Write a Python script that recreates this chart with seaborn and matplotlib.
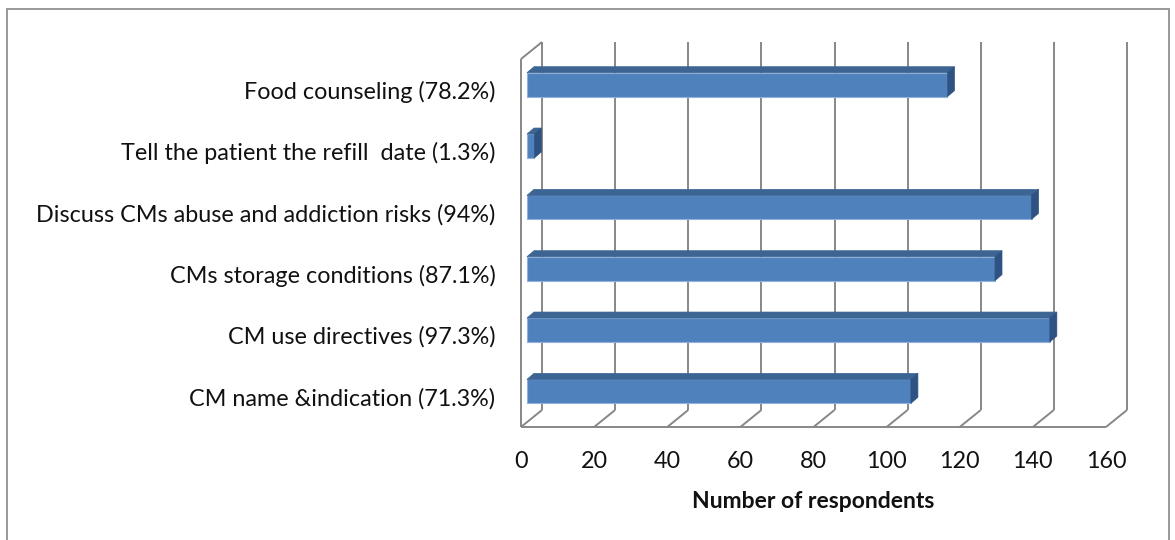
import matplotlib
matplotlib.use("Agg")
import matplotlib.pyplot as plt
import matplotlib.transforms as mtransforms
from matplotlib.patches import Polygon, Rectangle
import numpy as np
import seaborn as sns

# Counseling items (top to bottom) and number of respondents for each
categories = [
    "Food counseling (78.2%)",
    "Tell the patient the refill  date (1.3%)",
    "Discuss CMs abuse and addiction risks (94%)",
    "CMs storage conditions (87.1%)",
    "CM use directives (97.3%)",
    "CM name &indication (71.3%)",
]
respondents = [115, 2, 138, 128, 143, 105]
x_ticks = [0, 20, 40, 60, 80, 100, 120, 140, 160]
x_label = "Number of respondents"

W, H = 1175, 540
FRONT = "#4F81BD"
TOP = "#3C6593"
SIDE = "#2E5282"
EDGE = "#8FB1DB"
GRID = "#878787"
LW = 1.4

sns.set_style("white")
plt.rcParams["font.family"] = ["Lato", "DejaVu Sans"]

fig = plt.figure(figsize=(W / 100, H / 100), dpi=100)
# front plane of the 3-D box: x 0..160 spans pixels 521..1106, rows 59..427
ax = fig.add_axes([521 / W, (H - 427) / H, 585 / W, 368 / H])

sns.barplot(x=respondents, y=categories, orient="h", color=FRONT, width=0.39,
            saturation=1, edgecolor=EDGE, linewidth=0.8, ax=ax, zorder=3)

x_min, x_max = x_ticks[0], x_ticks[-1]
n = len(categories)
y_lo, y_hi = n - 0.5, -0.5
ax.set_xlim(x_min, x_max)
ax.set_ylim(y_lo, y_hi)

# pixel -> data conversion (fixed layout)
PX = (x_max - x_min) / 585.0
PY = n / 368.0
WX, WY = 21 * PX, -17 * PY      # depth of the walls
BX, BY = 7 * PX, -6 * PY        # depth of each bar

# bars sit a little behind the front plane
shift = mtransforms.offset_copy(ax.transData, fig=fig, x=6, y=5, units="dots")
for p in list(ax.patches):
    y0, h, v = p.get_y(), p.get_height(), p.get_width()
    p.set_transform(shift)
    top = Polygon([(0, y0), (v, y0), (v + BX, y0 + BY), (BX, y0 + BY)],
                  closed=True, fc=TOP, ec=TOP, lw=0.5, transform=shift, zorder=3)
    side = Polygon([(v, y0), (v, y0 + h), (v + BX, y0 + h + BY), (v + BX, y0 + BY)],
                   closed=True, fc=SIDE, ec=SIDE, lw=0.5, transform=shift, zorder=3)
    ax.add_patch(top)
    ax.add_patch(side)

line_kw = dict(color=GRID, lw=LW, clip_on=False, zorder=1, solid_capstyle="butt")
for t in x_ticks:
    # back-wall gridline and floor diagonal
    ax.plot([t + WX, t + WX], [y_lo + WY, y_hi + WY], **line_kw)
    ax.plot([t, t + WX], [y_lo, y_lo + WY], **line_kw)
# front axis lines and top-left corner
ax.plot([x_min, x_max], [y_lo, y_lo], **line_kw)
ax.plot([x_min, x_min], [y_lo, y_hi], **line_kw)
ax.plot([x_min, x_min + WX], [y_hi, y_hi + WY], **line_kw)

for s in ax.spines.values():
    s.set_visible(False)

ax.set_xticks(x_ticks)
ax.set_xticklabels([str(t) for t in x_ticks])
ax.tick_params(axis="x", length=5, width=LW, color=GRID, pad=12,
               labelsize=16.8, labelcolor="#111111")
ax.set_yticks(range(n))
ax.set_yticklabels(categories)
ax.tick_params(axis="y", which="major", length=0, pad=18.5,
               labelsize=16.8, labelcolor="#111111")
ax.set_yticks(np.arange(-0.5, n, 1.0), minor=True)
ax.tick_params(axis="y", which="minor", length=6.5, width=LW, color=GRID)
ax.set_ylabel("")
ax.set_xlabel(x_label, fontsize=16.5, fontweight="bold", color="#111111", labelpad=14)

# chart-area border
fig.add_artist(Rectangle((7 / W, -0.1), (1169 - 7) / W, (H - 9) / H + 0.1,
                         transform=fig.transFigure, fill=False, ec=GRID, lw=1.2))

fig.savefig("out.png", dpi=100, facecolor="white")
